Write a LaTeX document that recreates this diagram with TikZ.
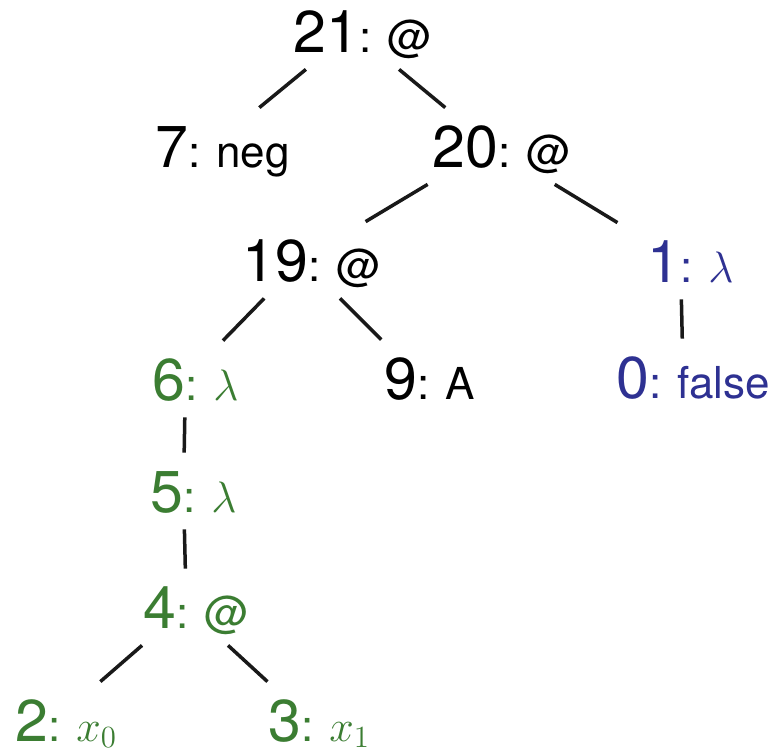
\RequirePackage{fix-cm}
\documentclass[tikz,border=0pt]{standalone}
\usepackage{fontspec}
\setmainfont{TeX Gyre Heros}
\usepackage{amsmath}
\definecolor{lamgreen}{RGB}{59,125,50}
\definecolor{lamblue}{RGB}{46,49,146}

\newcommand{\numsize}{\fontsize{29.5}{32}\selectfont}
\newcommand{\labsize}{\fontsize{22}{24}\selectfont}
\newcommand{\treelab}[2]{{\numsize #1}{\labsize:\hspace{8pt}#2}\kern-10pt}

\begin{document}
\begin{tikzpicture}[
    x=0.5pt, y=-0.5pt,
    treenode/.style={anchor=base west, xshift=-17.5pt, inner xsep=17.5pt,
                     inner ysep=8.5pt, text height=21pt, text depth=0pt},
    branch/.style={line width=1.75pt, draw=black!90}
]
   \useasboundingbox (0,0) rectangle (773,751);

   % Nodes (black)
   \node[treenode] (n21) at (293,52)  {\treelab{21}{@}};
   \node[treenode] (n7)  at (155,167) {\treelab{7}{neg}};
   \node[treenode] (n20) at (432,167) {\treelab{20}{@}};
   \node[treenode] (n19) at (242,281) {\treelab{19}{@}};
   \node[treenode] (n9)  at (384,399) {\treelab{9}{A}};

   % Nodes (blue)
   \node[treenode, text=lamblue] (n1) at (647,282) {\treelab{1}{$\lambda$}};
   \node[treenode, text=lamblue] (n0) at (616,398) {\treelab{0}{false}};

   % Nodes (green)
   \node[treenode, text=lamgreen] (n6) at (152,400) {\treelab{6}{$\lambda$}};
   \node[treenode, text=lamgreen] (n5) at (150,512) {\treelab{5}{$\lambda$}};
   \node[treenode, text=lamgreen] (n4) at (143,628) {\treelab{4}{@}};
   \node[treenode, text=lamgreen] (n2) at (15,741)  {\treelab{2}{$x_0$}};
   \node[treenode, text=lamgreen] (n3) at (268,741) {\treelab{3}{$x_1$}};

   % Branches
   \draw[branch] (n21) -- (n7);
   \draw[branch] (n21) -- (n20);
   \draw[branch] (n20) -- (n19);
   \draw[branch] (n20) -- (n1);
   \draw[branch] (n19) -- (n6);
   \draw[branch] (n19) -- (n9);
   \draw[branch] (n1) -- (n0);
   \draw[branch] (n6) -- (n5);
   \draw[branch] (n5) -- (n4);
   \draw[branch] (n4) -- (n2);
   \draw[branch] (n4) -- (n3);
\end{tikzpicture}
\end{document}
